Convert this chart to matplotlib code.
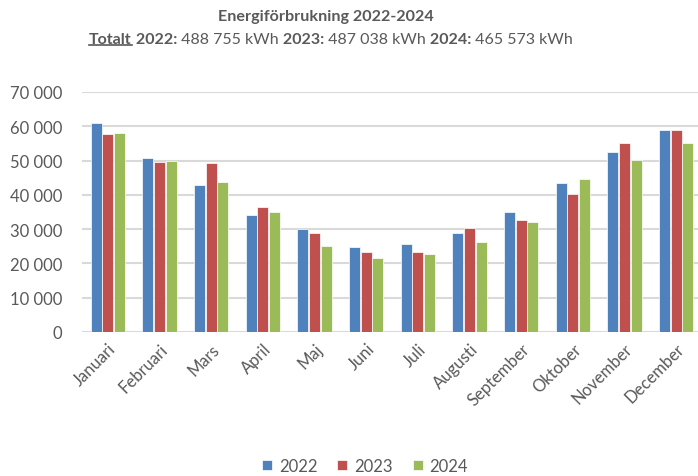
import numpy as np
import matplotlib
matplotlib.use("Agg")
import matplotlib.pyplot as plt
from matplotlib.ticker import FuncFormatter

months = ["Januari", "Februari", "Mars", "April", "Maj", "Juni", "Juli",
          "Augusti", "September", "Oktober", "November", "December"]
y2022 = [61000, 50800, 43000, 34000, 29900, 24700, 25700, 28800, 35000, 43400, 52600, 58800]
y2023 = [57800, 49600, 49400, 36500, 28800, 23200, 23300, 30300, 32800, 40200, 55100, 59000]
y2024 = [58100, 50000, 43700, 35000, 25100, 21700, 22800, 26300, 32200, 44500, 50300, 55000]
years = ["2022", "2023", "2024"]
totals = ["488 755", "487 038", "465 573"]
colors = ["#4F81BD", "#C0504D", "#9BBB59"]

plt.rcParams["font.family"] = ["Lato", "DejaVu Sans"]
txt = "#595959"

fig = plt.figure(figsize=(6.98, 4.77), dpi=100)
ax = fig.add_axes([82 / 698, 1 - 333 / 477, 1 - 82 / 698, 240 / 477])

x = np.arange(len(months))
w = 0.21
for i, (vals, c, lab) in enumerate(zip([y2022, y2023, y2024], colors, years)):
    ax.bar(x + (i - 1) * 0.225, vals, w, color=c, edgecolor="white", linewidth=0.5,
           label=lab, zorder=3)

ax.set_ylim(0, 70000)
ax.set_xlim(-0.5, 11.5 - 4 / 51.6)
ax.set_yticks(range(0, 70001, 10000))
ax.yaxis.set_major_formatter(FuncFormatter(lambda v, p: f"{int(v):,}".replace(",", " ")))
ax.grid(axis="y", color="#D9D9D9", linewidth=1.5, zorder=0)
for s in ax.spines.values():
    s.set_visible(False)
ax.tick_params(length=0, labelsize=12, labelcolor=txt)
ax.tick_params(axis="y", pad=14)
ax.set_xticks(x)
ax.set_xticklabels(months, rotation=45, ha="right", rotation_mode="anchor")
ax.tick_params(axis="x", pad=6)

leg = fig.legend(loc="center", bbox_to_anchor=(365 / 698, 1 - 467 / 477), ncol=3,
                 frameon=False, fontsize=12, handlelength=0.6, handleheight=0.6,
                 handletextpad=0.4, columnspacing=1.2)
for t in leg.get_texts():
    t.set_color(txt)

fig.text(326 / 698, 1 - 17 / 477, "Energiförbrukning 2022-2024", ha="center", va="center",
         fontsize=11.6, fontweight="bold", color=txt)

# second title line with mixed weights
parts = [("Totalt", "bold")]
for yr, tot in zip(years, totals):
    parts.append((" " + yr + ":", "bold"))
    parts.append((" " + tot + " kWh", "normal"))
renderer = fig.canvas.get_renderer()
objs = []
for s, wgt in parts:
    t = fig.text(0, 1 - 40 / 477, s, ha="left", va="center", fontsize=11.5,
                 fontweight=wgt, color=txt)
    objs.append(t)
widths = [t.get_window_extent(renderer).width for t in objs]
total_w = sum(widths)
x0 = 331 - total_w / 2
pos = x0
for t, wd in zip(objs, widths):
    t.set_x(pos / 698)
    pos += wd
bb = objs[0].get_window_extent(renderer)
uy = bb.y0 + 1
fig.add_artist(plt.Line2D([bb.x0 / 698, bb.x1 / 698], [uy / 477, uy / 477],
                          color=txt, linewidth=1.2))

fig.savefig("out.png", dpi=100)
